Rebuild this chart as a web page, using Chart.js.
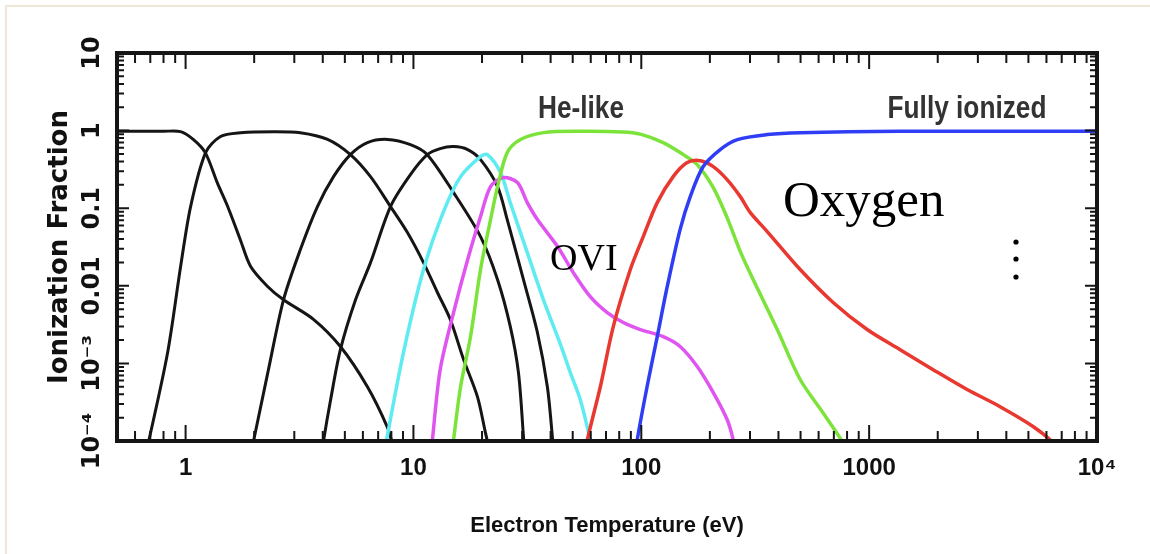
<!DOCTYPE html>
<html>
<head>
<meta charset="utf-8">
<script src="https://cdn.jsdelivr.net/npm/chart.js@4"></script>
<style>
  html, body { margin: 0; padding: 0; background: #fff; }
</style>
</head>
<body>
<canvas id="ion-chart" width="1150" height="554"></canvas>
<script>
// oxygen ion fractions vs electron temperature
const ionNames = ['O I', 'O II', 'O III', 'O IV', 'O V', 'O VI', 'O VII', 'O VIII', 'O IX'];

const oI_T = [0.5, 0.8, 0.95, 1.08, 1.22, 1.38, 1.53, 1.74, 1.93, 2.29, 2.69, 3.64, 4.78, 6.28, 7.69, 8.1];
const oI_F = [0.98, 0.98, 0.97, 0.77, 0.52, 0.21, 0.105, 0.039, 0.0177, 0.0098, 0.0066, 0.0037, 0.00165, 0.0005, 0.00015, 0.00009];

const oII_T = [0.668, 0.689, 0.834, 0.951, 1.052, 1.224, 1.424, 1.743, 2.43, 3.19, 4.2, 5.29, 6.48, 7.93, 9.41, 11.07, 12.74, 14.5, 16.6, 19.1, 20.7, 21.3];
const oII_F = [7.6e-5, 1e-4, 0.00138, 0.0177, 0.105, 0.52, 0.84, 0.94, 0.97, 0.94, 0.77, 0.49, 0.255, 0.105, 0.0485, 0.0199, 0.0082, 0.0037, 0.00112, 0.00037, 0.000128, 0.000089];

const oIII_T = [1.946, 1.987, 2.31, 2.69, 3.19, 3.79, 4.46, 5.29, 6.28, 7.69, 9.7, 11.5, 15.0, 19.7, 23.4, 26.6, 28.9, 30.4, 30.7];
const oIII_F = [7.6e-5, 1e-4, 0.00083, 0.0066, 0.0293, 0.105, 0.255, 0.49, 0.7, 0.77, 0.66, 0.49, 0.159, 0.043, 0.012, 0.003, 0.00076, 0.000114, 0.000076];

const oIV_T = [3.99, 4.03, 4.33, 4.78, 5.57, 6.48, 7.93, 9.7, 11.5, 13.1, 15.0, 17.3, 19.7, 23.4, 25.8, 30.4, 35.0, 38.7, 40.7, 41.1];
const oIV_F = [7.6e-5, 1e-4, 0.00034, 0.0015, 0.0066, 0.0199, 0.105, 0.271, 0.49, 0.586, 0.622, 0.57, 0.423, 0.19, 0.0713, 0.012, 0.0025, 0.0005, 0.000114, 0.000076];

const oV_T = [7.54, 7.61, 9.04, 11.07, 13.5, 16.1, 19.7, 21.1, 24.1, 26.6, 31.6, 37.2, 44.2, 48.8, 54.0, 59.7, 61.0];
const oV_F = [7.6e-5, 1e-4, 0.00138, 0.0162, 0.0878, 0.255, 0.462, 0.49, 0.288, 0.118, 0.0268, 0.0066, 0.00175, 0.00076, 0.00034, 0.000104, 0.000076];

const oVI_T = [12.0, 12.1, 13.1, 15.0, 17.3, 19.7, 21.8, 24.8, 28.6, 31.6, 35.0, 42.9, 50.3, 59.7, 70.9, 83.4, 99.0, 124.8, 148, 176, 207, 238, 253, 256];
const oVI_F = [7.6e-5, 1e-4, 0.00083, 0.00452, 0.0218, 0.078, 0.19, 0.248, 0.214, 0.118, 0.0713, 0.032, 0.0148, 0.00726, 0.00452, 0.00336, 0.00273, 0.00221, 0.00165, 0.00091, 0.00042, 0.000189, 0.000104, 0.000076];

const oVII_T = [14.8, 15.0, 16.1, 17.8, 19.7, 21.8, 23.4, 25.8, 29.5, 37.2, 54, 83, 99, 124.8, 153, 176, 207, 238, 272, 310, 395, 498, 628, 769, 793];
const oVII_F = [7.6e-5, 1.04e-4, 0.0005, 0.00221, 0.0162, 0.0713, 0.19, 0.52, 0.766, 0.942, 0.98, 0.96, 0.9, 0.7, 0.49, 0.365, 0.184, 0.0756, 0.0276, 0.012, 0.00273, 0.00062, 0.00023, 0.000095, 0.000076];

const oVIII_T = [57.4, 58.0, 66.1, 75.4, 89.5, 102, 117.5, 138, 159, 181.5, 207, 238, 272, 301, 357, 498, 695, 980, 1368, 1909, 2692, 3755, 5240, 6410, 6607];
const oVIII_F = [7.6e-5, 1.04e-4, 0.0005, 0.003, 0.0162, 0.043, 0.118, 0.255, 0.387, 0.41, 0.344, 0.234, 0.141, 0.0878, 0.05, 0.0162, 0.0061, 0.00273, 0.0015, 0.00083, 0.00046, 0.000277, 0.000154, 0.000095, 0.000076];

const oIX_T = [95.1, 96, 106, 117.5, 130, 148, 164, 187, 222, 264, 357, 498, 1368, 10000];
const oIX_F = [7.6e-5, 1.04e-4, 0.0005, 0.00221, 0.0098, 0.053, 0.141, 0.344, 0.57, 0.766, 0.888, 0.94, 0.98, 0.98];

const xTickValues = [1, 10, 100, 1000, 10000];
const xTickLabels = ['1', '10', '100', '1000', '10\u2074'];
const yTickValues = [10, 1, 0.1, 0.01, 0.001, 0.0001];
const yTickLabels = ['10', '1', '0.1', '0.01', '10\u207B\u00B3', '10\u207B\u2074'];

const sans = '"Liberation Sans", Arial, sans-serif';
const wide = '"DejaVu Sans", Verdana, sans-serif';
const serif = '"Liberation Serif", "Times New Roman", serif';

const black = '#151515';
const series = [
    { T: oI_T, F: oI_F, color: black, width: 3, order: 6 },
    { T: oII_T, F: oII_F, color: black, width: 3, order: 6 },
    { T: oIII_T, F: oIII_F, color: black, width: 3, order: 6 },
    { T: oIV_T, F: oIV_F, color: black, width: 3, order: 6 },
    { T: oV_T, F: oV_F, color: '#5eecf2', width: 3.5, order: 5 },
    { T: oVI_T, F: oVI_F, color: '#e055f0', width: 3.5, order: 4 },
    { T: oVII_T, F: oVII_F, color: '#7ce33a', width: 3.5, order: 3 },
    { T: oVIII_T, F: oVIII_F, color: '#e8382f', width: 3.5, order: 2 },
    { T: oIX_T, F: oIX_F, color: '#2f3df5', width: 3.5, order: 1 }
];

// squeezed text, the source picture is stretched vertically
function narrowText(c, text, x, y, align) {
    const w = c.measureText(text).width * 0.82;
    const left = align === 'center' ? x - w / 2 : x;
    c.save();
    c.translate(left, y);
    c.scale(0.82, 1);
    c.textAlign = 'left';
    c.fillText(text, 0, 0);
    c.restore();
}

// frame with inward ticks on all four sides, plus the text notes
const framePlugin = {
    id: 'frame',
    beforeDraw(chart) {
        const c = chart.ctx;
        c.save();
        c.fillStyle = '#fff';
        c.fillRect(0, 0, chart.width, chart.height);
        c.fillStyle = '#efe6d8';
        c.fillRect(5, 5, chart.width - 5, 2);
        c.fillRect(5, 5, 2, chart.height - 5);
        c.restore();
    },
    afterDraw(chart) {
        const c = chart.ctx, a = chart.chartArea;
        const sx = chart.scales.x, sy = chart.scales.y;
        c.save();
        c.strokeStyle = '#151515';
        c.lineWidth = 2;
        c.beginPath();
        for (let e = -1; e <= 4; e++) {
            for (let m = 1; m <= 9; m++) {
                const v = m * Math.pow(10, e);
                if (v < sx.min - 1e-9 || v > sx.max + 1e-9) continue;
                const px = sx.getPixelForValue(v);
                const len = m === 1 ? 16 : 10;
                c.moveTo(px, a.bottom); c.lineTo(px, a.bottom - len);
                c.moveTo(px, a.top); c.lineTo(px, a.top + len);
            }
        }
        for (let e = -4; e <= 1; e++) {
            for (let m = 1; m <= 9; m++) {
                const v = m * Math.pow(10, e);
                if (v < sy.min * 0.999 || v > sy.max * 1.001) continue;
                const py = sy.getPixelForValue(v);
                const len = m === 1 ? 12 : 7;
                c.moveTo(a.left, py); c.lineTo(a.left + len, py);
                c.moveTo(a.right, py); c.lineTo(a.right - len, py);
            }
        }
        c.stroke();
        c.lineWidth = 4;
        c.strokeRect(a.left, a.top, a.right - a.left, a.bottom - a.top);

        c.fillStyle = '#333';
        c.font = 'bold 32px ' + sans;
        c.textBaseline = 'alphabetic';
        narrowText(c, 'He-like', 581, 118, 'center');
        narrowText(c, 'Fully ionized', 967, 118, 'center');

        c.fillStyle = '#000';
        c.textAlign = 'left';
        c.font = '51px ' + serif;
        c.fillText('Oxygen', 783, 216);
        c.font = '38px ' + serif;
        c.fillText('OVI', 550, 270);

        for (const dy of [242, 259, 277]) {
            c.beginPath();
            c.arc(1016, dy, 2.6, 0, Math.PI * 2);
            c.fill();
        }
        c.restore();
    }
};

const ctx = document.getElementById('ion-chart');
const chart = new Chart(ctx, {
    type: 'line',
    data: {
        datasets: series.map((s, i) => ({
            label: ionNames[i],
            data: s.T.map((t, k) => ({ x: t, y: s.F[k] })),
            borderColor: s.color,
            borderWidth: s.width,
            pointRadius: 0,
            fill: false,
            tension: 0.3,
            order: s.order
        }))
    },
    options: {
        responsive: false,
        animation: false,
        layout: { padding: { left: 30, top: 53, right: 53, bottom: 0 } },
        plugins: {
            legend: { display: false },
            tooltip: { enabled: false }
        },
        scales: {
            x: {
                type: 'logarithmic',
                min: 0.5,
                max: 10000,
                grid: { display: false, drawTicks: false },
                border: { display: false },
                afterBuildTicks: (axis) => { axis.ticks = xTickValues.map(v => ({ value: v })); },
                afterFit: (axis) => { axis.height = 113; },
                ticks: {
                    autoSkip: false,
                    maxRotation: 0,
                    padding: 13,
                    color: '#111',
                    font: { family: sans, size: 24, weight: 'bold' },
                    callback: (v) => { const i = xTickValues.indexOf(v); return i >= 0 ? xTickLabels[i] : ''; }
                },
                title: {
                    display: true,
                    text: 'Electron Temperature (eV)',
                    color: '#111',
                    font: { family: sans, size: 22, weight: 'bold' },
                    padding: { top: 0, bottom: 15 }
                }
            },
            y: {
                type: 'logarithmic',
                min: 0.0001,
                max: 10,
                grid: { display: false, drawTicks: false },
                border: { display: false },
                afterBuildTicks: (axis) => { axis.ticks = yTickValues.map(v => ({ value: v })); },
                afterFit: (axis) => { axis.width = 87; },
                ticks: {
                    autoSkip: false,
                    minRotation: 90,
                    maxRotation: 90,
                    crossAlign: 'center',
                    padding: -5,
                    color: '#111',
                    font: { family: wide, size: 24, weight: 'bold' },
                    callback: (v) => { const i = yTickValues.indexOf(v); return i >= 0 ? yTickLabels[i] : ''; }
                },
                title: {
                    display: true,
                    text: 'Ionization Fraction',
                    color: '#111',
                    font: { family: wide, size: 26, weight: 'bold' },
                    padding: { top: 15, bottom: 0 }
                }
            }
        }
    },
    plugins: [framePlugin]
});
</script>
</body>
</html>
